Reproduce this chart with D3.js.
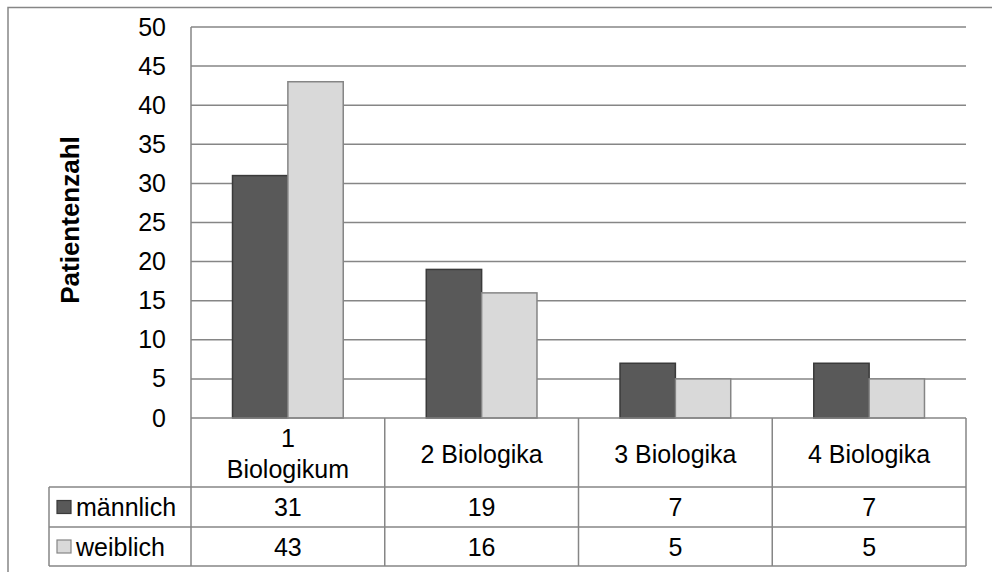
<!DOCTYPE html>
<html>
<head>
<meta charset="utf-8">
<script src="https://cdn.jsdelivr.net/npm/d3@7"></script>
<style>
  html, body { margin: 0; padding: 0; background: #fff; }
  svg { display: block; font-family: "Liberation Sans", Arial, sans-serif; }
</style>
</head>
<body>
<svg id="chart" width="992" height="572"></svg>
<script>
// Excel-style clustered columns with a data table underneath.
const categories = ["1 Biologikum", "2 Biologika", "3 Biologika", "4 Biologika"];
const categoryLines = [["1", "Biologikum"], ["2 Biologika"], ["3 Biologika"], ["4 Biologika"]];
const series = ["männlich", "weiblich"];
const maennlich = [31, 19, 7, 7];
const weiblich = [43, 16, 5, 5];
const yTicks = [0, 5, 10, 15, 20, 25, 30, 35, 40, 45, 50];

const COL = {
  grid: "#868686",
  dark: "#595959", darkEdge: "#3a3a3a",
  light: "#d9d9d9", lightEdge: "#858585",
};
const FS = 25;

const values = [maennlich, weiblich];
const rows = categories.map((c, i) => ({ cat: c, vals: series.map((s, k) => ({ s, v: values[k][i] })) }));

const svg = d3.select("#chart");
const P = { l: 191, r: 966, t: 27, b: 418 };     // plot area
const T = { head: 487, row1: 527, row2: 566, left: 49 }; // data table rows

const x0 = d3.scaleBand().domain(categories).range([P.l, P.r]).padding(0);
const x1 = d3.scaleBand().domain(series).range([0, x0.bandwidth()])
  .paddingInner(0).paddingOuter(0.75);
const y = d3.scaleLinear().domain([0, 50]).range([P.b, P.t]);
const fill = d3.scaleOrdinal().domain(series).range([COL.dark, COL.light]);
const edge = d3.scaleOrdinal().domain(series).range([COL.darkEdge, COL.lightEdge]);

// outer chart frame (runs off the right and bottom)
svg.append("rect").attr("x", 8).attr("y", 7.5).attr("width", 1100).attr("height", 700)
  .attr("fill", "none").attr("stroke", COL.grid).attr("stroke-width", 1.5);

// gridlines
svg.append("g").selectAll("line").data(yTicks.filter((d) => d > 0)).join("line")
  .attr("x1", P.l).attr("x2", P.r)
  .attr("y1", (d) => y(d)).attr("y2", (d) => y(d))
  .attr("stroke", COL.grid).attr("stroke-width", 1.5);

// y axis labels
const yAxis = svg.append("g").attr("transform", `translate(${P.l},0)`)
  .call(d3.axisLeft(y).tickValues(yTicks).tickSize(0).tickPadding(25));
yAxis.select(".domain").remove();
yAxis.selectAll("text").attr("font-size", FS).attr("fill", "#000")
  .attr("font-family", "'Liberation Sans', Arial, sans-serif");

// axis title
svg.append("text")
  .attr("transform", `translate(79,220) rotate(-90)`)
  .attr("text-anchor", "middle")
  .attr("font-size", 26).attr("font-weight", "bold")
  .text("Patientenzahl");

// bars
const g = svg.append("g").selectAll("g").data(rows).join("g")
  .attr("transform", (d) => `translate(${x0(d.cat)},0)`);
g.selectAll("rect").data((d) => d.vals).join("rect")
  .attr("x", (d) => x1(d.s))
  .attr("width", x1.bandwidth())
  .attr("y", (d) => y(d.v))
  .attr("height", (d) => y(0) - y(d.v))
  .attr("fill", (d) => fill(d.s))
  .attr("stroke", (d) => edge(d.s))
  .attr("stroke-width", 1.5);

// table lines
const tbl = svg.append("g").attr("stroke", COL.grid).attr("stroke-width", 1.5);
// left axis line through the header
tbl.append("line").attr("x1", P.l).attr("x2", P.l).attr("y1", P.t).attr("y2", T.row2);
// horizontal lines
tbl.append("line").attr("x1", P.l).attr("x2", P.r).attr("y1", P.b).attr("y2", P.b);
[T.head, T.row1, T.row2].forEach((yy) =>
  tbl.append("line").attr("x1", T.left).attr("x2", P.r).attr("y1", yy).attr("y2", yy));
// column boundaries
categories.forEach((c) =>
  tbl.append("line").attr("x1", x0(c) + x0.bandwidth()).attr("x2", x0(c) + x0.bandwidth())
    .attr("y1", P.b).attr("y2", T.row2));
tbl.append("line").attr("x1", T.left).attr("x2", T.left).attr("y1", T.head).attr("y2", T.row2);

// header labels
const head = svg.append("g").selectAll("text").data(categories).join("text")
  .attr("text-anchor", "middle").attr("font-size", FS)
  .attr("x", (c) => x0(c) + x0.bandwidth() / 2);
head.each(function (c, i) {
  const lines = categoryLines[i];
  const mid = (P.b + T.head) / 2 + 1;
  const lh = 31;
  lines.forEach((ln, j) => {
    d3.select(this).append("tspan")
      .attr("x", x0(c) + x0.bandwidth() / 2)
      .attr("y", mid + (j - (lines.length - 1) / 2) * lh)
      .attr("dy", "0.36em")
      .text(ln);
  });
});

// value rows with legend keys
const rowY = [(T.head + T.row1) / 2, (T.row1 + T.row2) / 2];
series.forEach((s, k) => {
  svg.append("rect").attr("x", 57).attr("y", rowY[k] - 6.5).attr("width", 14).attr("height", 13)
    .attr("fill", fill(s)).attr("stroke", edge(s)).attr("stroke-width", 1.2);
  svg.append("text").attr("x", 76).attr("y", rowY[k]).attr("dy", "0.36em")
    .attr("font-size", FS).text(s);
  svg.append("g").selectAll("text").data(categories).join("text")
    .attr("x", (c) => x0(c) + x0.bandwidth() / 2).attr("y", rowY[k]).attr("dy", "0.36em")
    .attr("text-anchor", "middle").attr("font-size", FS)
    .text((c, i) => values[k][i]);
});
</script>
</body>
</html>
